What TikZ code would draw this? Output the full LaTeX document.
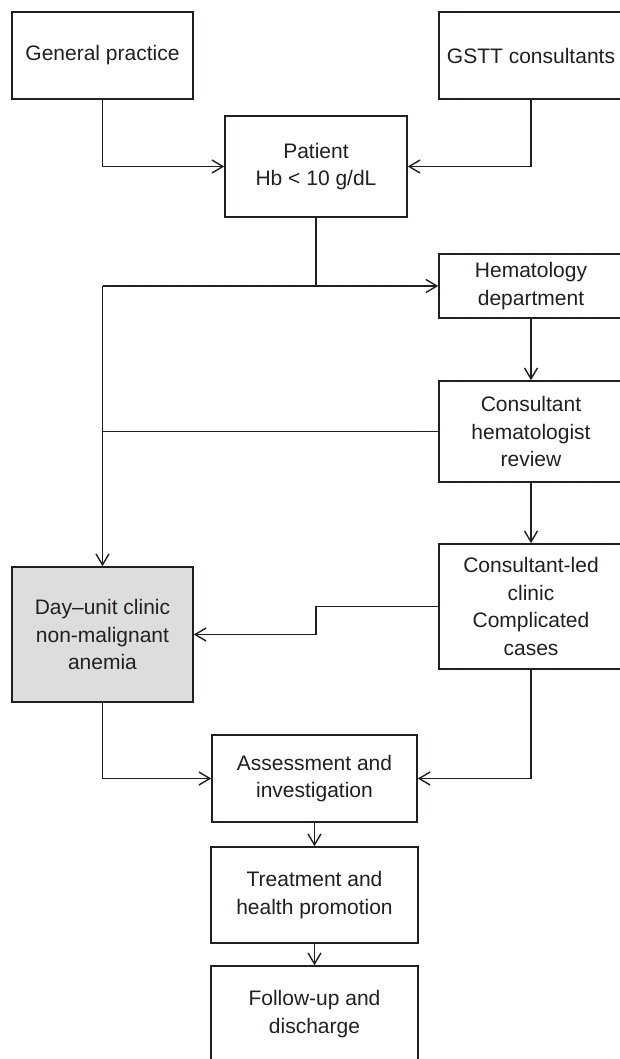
\documentclass[tikz,border=0pt]{standalone}
\usepackage{fontspec}
\setmainfont{Liberation Sans}
\usetikzlibrary{arrows.meta}
\definecolor{ink}{RGB}{35,31,32}
\definecolor{dayfill}{RGB}{220,221,223}
\tikzset{
  box/.style={draw=ink, line width=1.5pt, inner sep=0pt, align=center, text=ink,
    font=\fontsize{21}{27.5}\selectfont, minimum width=#1},
  box/.default=184pt,
  conn/.style={draw=ink, line width=1.4pt},
  arr/.style={conn, -{Straight Barb[length=11pt,width=13pt]}},
}
\begin{document}
\begin{tikzpicture}[x=1pt,y=-1pt]
\clip (0,0) rectangle (620,1059);
\fill[white] (0,0) rectangle (620,1059);
\node[box=181pt, minimum height=87pt] (gp) at (102.5,55.5) {General practice};
\node[box=184pt, minimum height=87pt] (gstt) at (531,55.5) {GSTT consultants};
\node[box=182pt, minimum height=101pt] (pat) at (316,166.5) {Patient\\Hb < 10 g/dL};
\node[box=184pt, minimum height=64pt] (hem) at (531,286) {Hematology\\department};
\node[box=184pt, minimum height=101pt] (rev) at (531,431.5) {Consultant\\hematologist\\review};
\node[box=184pt, minimum height=125pt] (cl) at (531,606.5) {Consultant-led\\clinic\\Complicated\\cases};
\node[box=181pt, minimum height=135pt, fill=dayfill] (day) at (102.5,634.5) {Day–unit clinic\\non-malignant\\anemia};
\node[box=205pt, minimum height=87pt] (ass) at (314.5,778.5) {Assessment and\\investigation};
\node[box=207pt, minimum height=96pt] (tre) at (314.5,895) {Treatment and\\health promotion};
\node[box=207pt, minimum height=96pt] (fol) at (314.5,1014) {Follow-up and\\discharge};

\coordinate (j1) at (day.north |- hem.west);
\coordinate (j2) at (rev.west -| day.north);
\coordinate (bend) at (pat.south |- cl.west);

\draw[arr] (gp.south) |- (pat.west);
\draw[arr] (gstt.south) |- (pat.east);
\draw[arr] (pat.south) |- (hem.west);
\draw[conn] (pat.south |- hem.west) -- (j1);
\draw[arr] (j1) -- (day.north);
\draw[conn] (rev.west) -- (j2);
\draw[arr] (hem.south) -- (rev.north);
\draw[arr] (rev.south) -- (cl.north);
\draw[arr] (cl.west) -- (bend) |- (day.east);
\draw[arr] (day.south) |- (ass.west);
\draw[arr] (cl.south) |- (ass.east);
\draw[arr] (ass.south -| tre.north) -- (tre.north);
\draw[arr] (tre.south) -- (fol.north);
\end{tikzpicture}
\end{document}
